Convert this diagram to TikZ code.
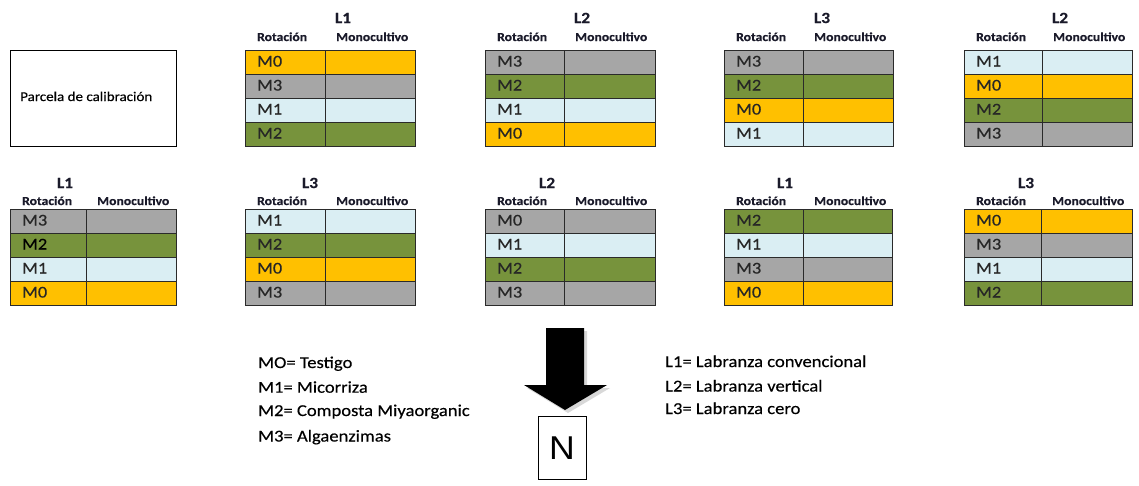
\documentclass[tikz,border=0pt]{standalone}
\usepackage{fontspec}
\setmainfont{Carlito}[FakeStretch=1.12,FakeBold=0.35]
\newfontfamily\nfont{Liberation Sans}[FakeStretch=1.08]
\definecolor{orng}{HTML}{FFC000}
\definecolor{grey}{HTML}{A6A6A6}
\definecolor{lblue}{HTML}{DAEEF3}
\definecolor{green}{HTML}{77933C}
\definecolor{txt}{HTML}{262626}
\definecolor{hdrc}{HTML}{1A1A2A}
\definecolor{gridc}{HTML}{2A2A2A}
\tikzset{
  cell/.style={font=\fontsize{16.4}{18}\selectfont, text=txt, inner sep=0pt, anchor=base west},
  hdr/.style={font=\bfseries\fontsize{12.2}{14}\selectfont, text=hdrc, inner sep=0pt, anchor=base west},
  lab/.style={font=\bfseries\fontsize{15.5}{17}\selectfont, text=hdrc, inner sep=0pt, anchor=base},
  leg/.style={font=\fontsize{16.6}{18}\selectfont, text=black, inner sep=0pt, anchor=base west},
  gridline/.style={draw=gridc, line width=1pt},
}
% #1 name, #2 left, #3 divider, #4 right, #5 top, #6 L label, #7 L centre x, #8 rows
\newcommand{\parcela}[8]{%
  \foreach \cc/\tx [count=\i] in {#8} {
    \fill[\cc] (#2,{#5+24*(\i-1)}) rectangle (#4,{#5+24*\i});
    \node[cell] (#1-\i) at (#2+12,{#5+24*(\i-1)+16.5}) {\tx};
  }
  \foreach \i in {1,2,3} \draw[gridline] (#2,{#5+24*\i}) -- (#4,{#5+24*\i});
  \draw[gridline] (#3,#5) -- (#3,#5+96);
  \draw[gridline] (#2,#5) rectangle (#4,#5+96);
  \node[lab] (#1-L) at (#7,#5-\Loff) {#6};
  \node[hdr] (#1-r) at (#2+12,#5-\Hoff) {Rotación};
  \node[hdr] (#1-m) at (#3+11,#5-\Hoff) {Monocultivo};
}
\begin{document}
\begin{tikzpicture}[x=1pt,y=-1pt]
\fill[white] (0,0) rectangle (1139,485);
\useasboundingbox (0,0) rectangle (1139,485);

% calibration plot
\node[draw=black, line width=0.9pt, minimum width=166pt, minimum height=96pt, inner sep=0pt] (calib) at (93,98) {};
\node[font=\fontsize{13.4}{15}\selectfont, inner sep=0pt, anchor=base west] (calibtext) at (20,101) {Parcela de calibración};

% first row
\def\Loff{27}\def\Hoff{9}
\parcela{a}{245}{325}{415}{50}{L1}{343}{orng/M0, grey/M3, lblue/M1, green/M2}
\parcela{b}{485}{564}{655}{50}{L2}{582}{grey/M3, green/M2, lblue/M1, orng/M0}
\parcela{c}{724}{803}{893}{50}{L3}{822}{grey/M3, green/M2, orng/M0, lblue/M1}
\parcela{d}{964}{1042}{1132}{50}{L2}{1060}{lblue/M1, orng/M0, green/M2, grey/M3}

% second row
\def\Loff{21}\def\Hoff{4}
\parcela{e}{10}{86}{176}{209}{L1}{65}{grey/M3, green/{\textcolor{black}{M2}}, lblue/M1, orng/M0}
\parcela{f}{245}{325}{415}{209}{L3}{310}{lblue/M1, green/M2, orng/M0, grey/M3}
\parcela{g}{485}{564}{655}{209}{L2}{547}{grey/M0, lblue/M1, green/M2, grey/M3}
\parcela{h}{724}{803}{892}{209}{L1}{785}{green/M2, lblue/M1, grey/M3, orng/M0}
\parcela{k}{964}{1041}{1132}{209}{L3}{1026}{orng/M0, grey/M3, lblue/M1, green/M2}

% legend left
\node[leg] (m0) at (258,368) {MO= Testigo};
\node[leg] (m1) at (258,392.7) {M1= Micorriza};
\node[leg] (m2) at (258,416) {M2= Composta Miyaorganic};
\node[leg] (m3) at (258,441.5) {M3= Algaenzimas};

% legend right
\node[leg] (l1) at (665,367) {L1= Labranza convencional};
\node[leg] (l2) at (665,391.5) {L2= Labranza vertical};
\node[leg] (l3) at (665,414) {L3= Labranza cero};

% north arrow
\fill[black!25, opacity=0.6] (549,331) -- (587,331) -- (587,388) -- (610,388) -- (568,413) -- (527,388) -- (549,388) -- cycle;
\fill[black] (546,328) -- (584,328) -- (584,385) -- (607,385) -- (565,410) -- (524,385) -- (546,385) -- cycle;
\node[draw=black, line width=0.9pt, minimum width=48pt, minimum height=63pt, inner sep=0pt,
      font=\nfont\fontsize{33}{36}\selectfont] (N) at (562,448) {N};
\end{tikzpicture}
\end{document}
